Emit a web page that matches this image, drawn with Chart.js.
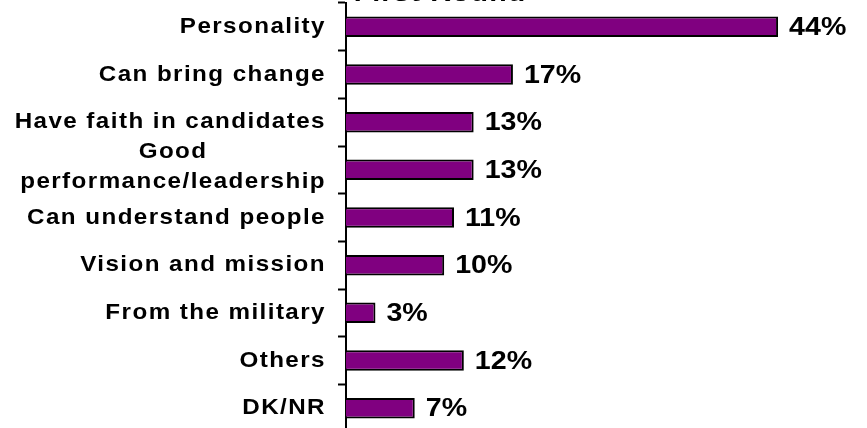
<!DOCTYPE html>
<html>
<head>
<meta charset="utf-8">
<script src="https://cdn.jsdelivr.net/npm/chart.js@4/dist/chart.umd.min.js"></script>
<style>
  html,body{margin:0;padding:0;background:#fff;overflow:hidden}
  #wrap{position:relative;width:867px;height:432px}
</style>
</head>
<body>
<div id="wrap"><canvas id="chart"></canvas></div>
<script>
// Reasons for choosing a candidate, first round (% of respondents)
const TITLE = "First Round";
const REASONS = [
  "Personality",
  "Can bring change",
  "Have faith in candidates",
  ["Good", "performance/leadership"],
  "Can understand people",
  "Vision and mission",
  "From the military",
  "Others",
  "DK/NR"
];
const SHARE = [44, 17, 13, 13, 11, 10, 3, 12, 7];

const FONT = '"Liberation Sans", Arial, sans-serif';
const WIDE = 1.1;   // text is drawn slightly widened

function wideText(ctx, txt, x, y){
  ctx.save();
  ctx.translate(x, y);
  ctx.scale(WIDE, 1);
  ctx.fillText(txt, 0, 0);
  ctx.restore();
}

// category names, right-aligned against the axis; wrapped lines centred on each other
const reasonLabels = {
  id: "reasonLabels",
  afterDraw(c){
    const y = c.scales.y, ctx = c.ctx;
    ctx.save();
    ctx.font = "bold 22px " + FONT;
    ctx.letterSpacing = "1.3px";
    ctx.fillStyle = "#000";
    ctx.textBaseline = "middle";
    ctx.textAlign = "center";
    const right = 326, lh = 30;
    REASONS.forEach((lab, i) => {
      const lines = Array.isArray(lab) ? lab : [lab];
      const w = Math.max(...lines.map(l => ctx.measureText(l).width)) * WIDE;
      const cy = y.getPixelForValue(i) - (lines.length - 1) * lh / 2 - (lines.length > 1 ? 3 : 0);
      lines.forEach((l, k) => wideText(ctx, l, right - w / 2, cy + k * lh));
    });
    ctx.restore();
  }
};

// percentage next to each bar
const valueLabels = {
  id: "valueLabels",
  afterDatasetsDraw(c){
    const ctx = c.ctx, meta = c.getDatasetMeta(0);
    ctx.save();
    ctx.font = "bold 26px " + FONT;
    ctx.fillStyle = "#000";
    ctx.textBaseline = "middle";
    ctx.textAlign = "left";
    meta.data.forEach((bar, i) => wideText(ctx, SHARE[i] + "%", bar.x + 11, bar.y + 1));
    ctx.restore();
  }
};

// title sits at the very top edge, mostly cut off
const cutTitle = {
  id: "cutTitle",
  afterDraw(c){
    const ctx = c.ctx;
    ctx.save();
    ctx.font = "bold 26px " + FONT;
    ctx.letterSpacing = "1px";
    ctx.fillStyle = "#000";
    ctx.textAlign = "center";
    ctx.textBaseline = "alphabetic";
    wideText(ctx, TITLE, 440, 1);
    ctx.restore();
  }
};

new Chart(document.getElementById("chart"), {
  type: "bar",
  data: {
    labels: REASONS,
    datasets: [{
      data: SHARE,
      backgroundColor: "#800080",
      borderColor: "#000",
      borderWidth: 2,
      barPercentage: 0.43,
      categoryPercentage: 1
    }]
  },
  options: {
    indexAxis: "y",
    responsive: true,
    maintainAspectRatio: false,
    animation: false,
    events: [],
    layout: { padding: { left: 338, top: 3, right: 30, bottom: 0 } },
    plugins: { legend: { display: false }, tooltip: { enabled: false }, title: { display: false } },
    scales: {
      x: { display: false, min: 0, max: 50 },
      y: {
        ticks: { display: false },
        grid: { drawOnChartArea: false, drawTicks: true, tickLength: 8, tickWidth: 2, tickColor: "#000", offset: true },
        border: { display: true, color: "#000", width: 2 }
      }
    }
  },
  plugins: [reasonLabels, valueLabels, cutTitle]
});
</script>
</body>
</html>
